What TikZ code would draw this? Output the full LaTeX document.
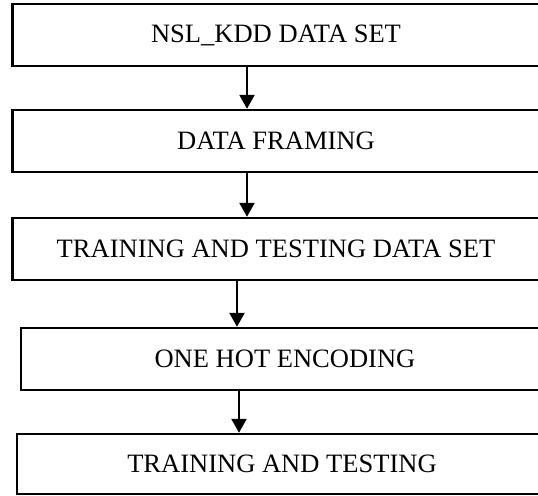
\documentclass[tikz,border=0pt]{standalone}
\usepackage{fontspec}
\setmainfont{Liberation Serif}
\usetikzlibrary{arrows.meta}

\tikzset{
  stepbox/.style={draw, line width=1.4pt, minimum width=10.54cm, minimum height=1.24cm,
    inner sep=0pt, font=\fontsize{15.1}{18}\selectfont},
  flow/.style={-{Triangle[width=0.3cm,length=0.28cm]}, line width=1.4pt}
}

\begin{document}
\begin{tikzpicture}[x=0.02cm, y=0.02cm]
  \clip (0,0) rectangle (538,-495);
  \node[stepbox] (nsl) at (276,-35) {NSL\_KDD DATA SET};
  \node[stepbox] (frame) at (276,-141) {DATA FRAMING};
  \node[stepbox] (split) at (276,-249) {TRAINING AND TESTING DATA SET};
  \node[stepbox, minimum width=10.56cm] (onehot) at (285,-359) {ONE HOT ENCODING};
  \node[stepbox, minimum width=10.6cm, minimum height=1.2cm] (train) at (282,-464) {TRAINING AND TESTING};

  \draw[flow] ([xshift=-0.58cm]nsl.south) -- ([xshift=-0.58cm]nsl.south |- frame.north);
  \draw[flow] ([xshift=-0.58cm]frame.south) -- ([xshift=-0.58cm]frame.south |- split.north);
  \draw[flow] ([xshift=-0.78cm]split.south) -- ([xshift=-0.78cm]split.south |- onehot.north);
  \draw[flow] ([xshift=-0.92cm]onehot.south) -- ([xshift=-0.92cm]onehot.south |- train.north);
\end{tikzpicture}
\end{document}
